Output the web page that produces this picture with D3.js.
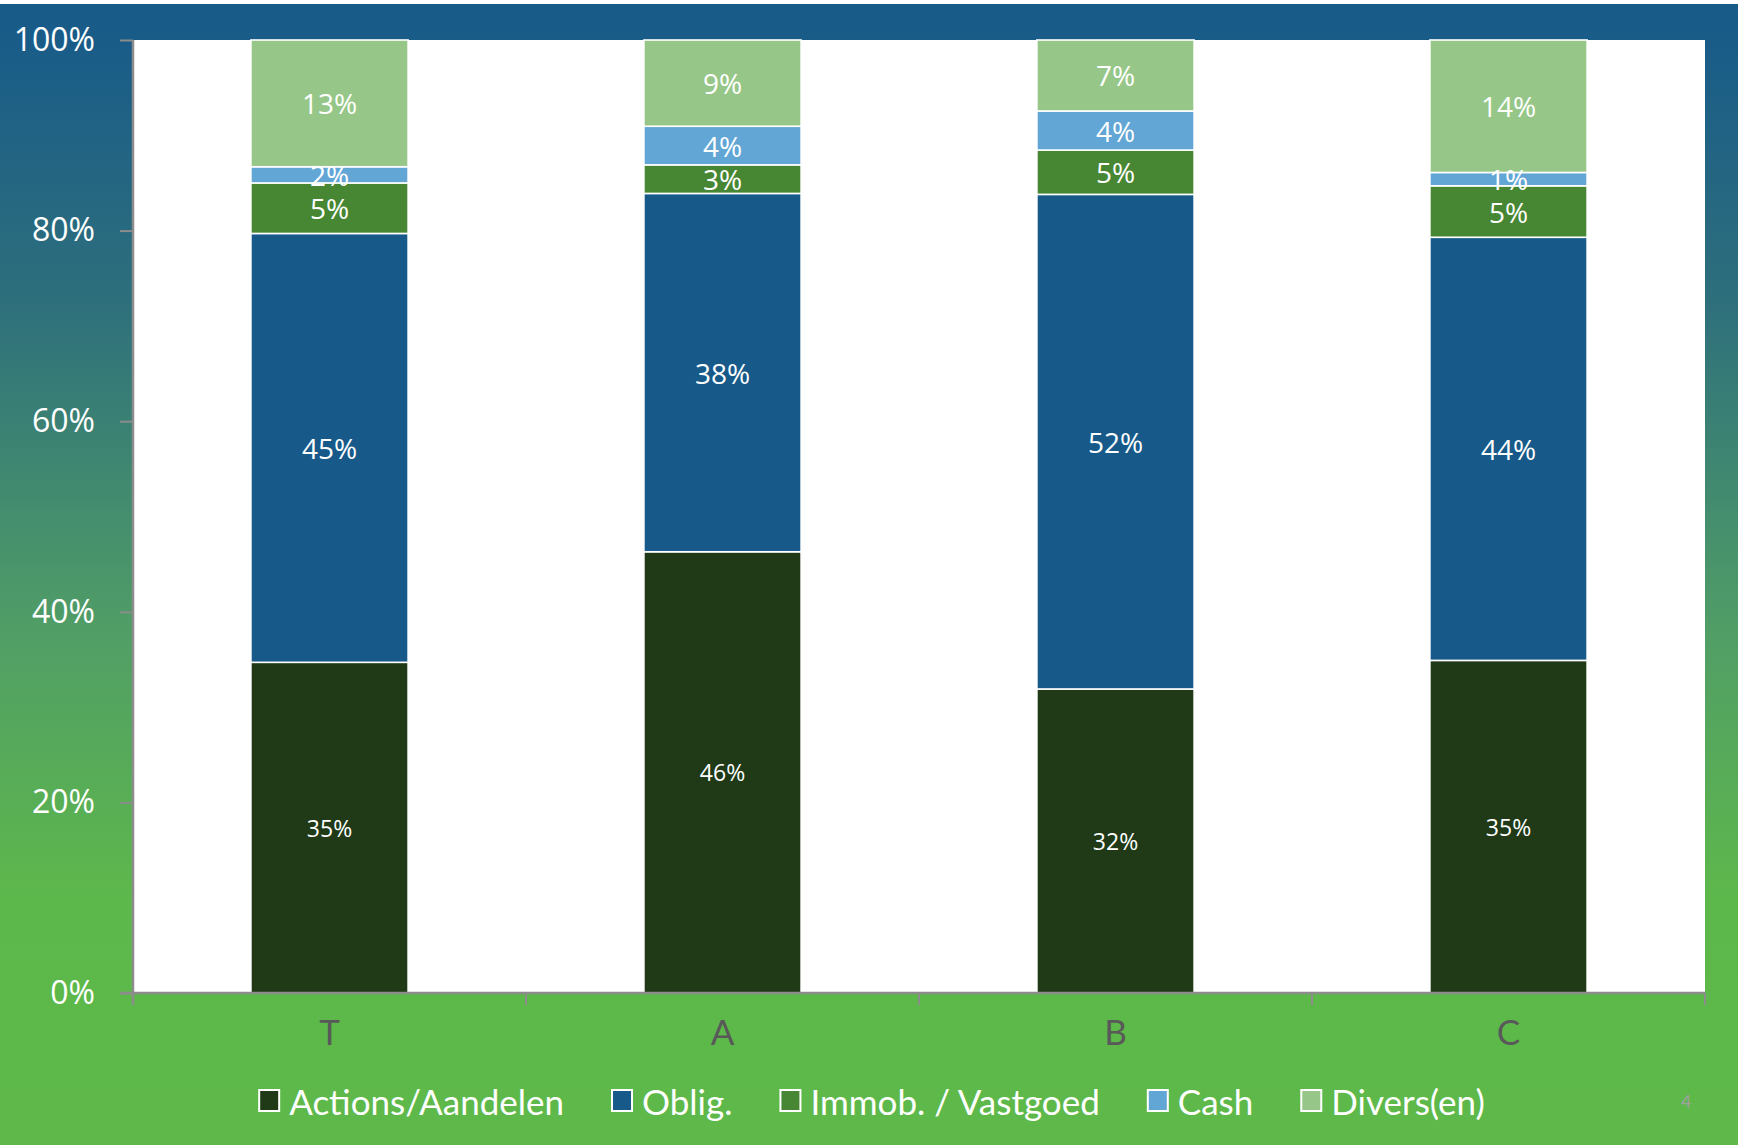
<!DOCTYPE html>
<html>
<head>
<meta charset="utf-8">
<script src="https://cdn.jsdelivr.net/npm/d3@7"></script>
<style>
  html, body { margin: 0; padding: 0; background: #ffffff; }
  svg { display: block; }
</style>
</head>
<body>
<svg id="chart" width="1738" height="1145"></svg>
<script>
// ---- data ----
const categories = ["T", "A", "B", "C"];
const seriesNames = ["Actions/Aandelen", "Oblig.", "Immob. / Vastgoed", "Cash", "Divers(en)"];
const actions = [34.7, 46.3, 31.9, 34.9];
const oblig   = [45.0, 37.6, 51.9, 44.4];
const immob   = [5.3, 3.0, 4.65, 5.4];
const cash    = [1.7, 4.05, 4.1, 1.4];
const divers  = [13.3, 9.05, 7.45, 13.9];
const yTicks  = [0, 20, 40, 60, 80, 100];
const pageNumber = "4";

const seriesValues = [actions, oblig, immob, cash, divers];
const colors = ["#203a17", "#175a89", "#478733", "#62a6d6", "#96c788"];

const W = 1738, H = 1145;
const margin = { left: 133, right: 33, top: 40, bottom: 152 };
const svg = d3.select("#chart");

// background gradient
const defs = svg.append("defs");
const grad = defs.append("linearGradient")
  .attr("id", "bg").attr("gradientUnits", "userSpaceOnUse")
  .attr("x1", 0).attr("y1", 0).attr("x2", 0).attr("y2", H);
[[0, "#195b89"], [40, "#195c88"], [300, "#2e6f7c"], [633, "#519e66"], [900, "#5db84b"], [H, "#5eb94a"]]
  .forEach(([y, c]) => grad.append("stop").attr("offset", y / H).attr("stop-color", c));

svg.append("rect").attr("x", 0).attr("y", 4).attr("width", W).attr("height", H - 4).attr("fill", "url(#bg)");

const x0 = margin.left, x1 = W - margin.right;
const y0 = H - margin.bottom, y1 = margin.top;

const x = d3.scaleBand().domain(categories).range([x0, x1]).paddingInner(0.6).paddingOuter(0.3);
const y = d3.scaleLinear().domain([0, 100]).range([y0, y1]);

// plot area
svg.append("rect").attr("x", x0).attr("y", y1).attr("width", x1 - x0).attr("height", y0 - y1).attr("fill", "#ffffff");

// stacked data
const table = categories.map((c, i) => {
  const o = { cat: c };
  seriesNames.forEach((s, j) => o[s] = seriesValues[j][i]);
  return o;
});
const stacked = d3.stack().keys(seriesNames)(table);

const g = svg.append("g");
stacked.forEach((layer, j) => {
  g.selectAll(null).data(layer).join("rect")
    .attr("x", d => x(d.data.cat))
    .attr("y", d => y(d[1]))
    .attr("width", x.bandwidth())
    .attr("height", d => y(d[0]) - y(d[1]))
    .attr("fill", colors[j])
    .attr("stroke", "#ffffff")
    .attr("stroke-width", 1.6);
});

// labels
stacked.forEach((layer, j) => {
  g.selectAll(null).data(layer).join("text")
    .attr("x", d => x(d.data.cat) + x.bandwidth() / 2)
    .attr("y", d => (y(d[0]) + y(d[1])) / 2)
    .attr("text-anchor", "middle")
    .attr("dominant-baseline", "central")
    .attr("fill", "#ffffff")
    .attr("font-family", "'Open Sans', sans-serif")
    .attr("font-size", j === 0 ? 23 : 28)
    .text(d => Math.round(d[1] - d[0]) + "%");
});

// axes
const axisColor = "#8c8c8c";
const yAxis = svg.append("g").attr("transform", `translate(${x0},0)`)
  .call(d3.axisLeft(y).tickValues(yTicks).tickSize(13).tickPadding(25).tickFormat(d => d + "%"));
yAxis.select(".domain").attr("stroke", axisColor).attr("stroke-width", 2.5).attr("d", `M0,${y1}V${y0 + 12}`);
yAxis.selectAll(".tick line").attr("stroke", axisColor).attr("stroke-width", 2);
yAxis.selectAll(".tick text").attr("fill", "#ffffff")
  .attr("font-family", "'Open Sans', sans-serif").attr("font-size", 32);

const xAxis = svg.append("g").attr("transform", `translate(0,${y0})`)
  .call(d3.axisBottom(x).tickSize(0).tickPadding(27));
xAxis.select(".domain").attr("stroke", axisColor).attr("stroke-width", 2.5).attr("d", `M${x0 - 13},0H${x1}`);
xAxis.selectAll(".tick text").attr("fill", "#595959")
  .attr("font-family", "Lato, sans-serif").attr("font-size", 35);
// category separators
const sepPos = [x0].concat(categories.slice(1).map(c => x(c) - (x.step() - x.bandwidth()) / 2), [x1]);
xAxis.selectAll(".sep").data(sepPos).join("line")
  .attr("x1", d => d).attr("x2", d => d).attr("y1", 0).attr("y2", 12)
  .attr("stroke", axisColor).attr("stroke-width", 2);

// legend
const legend = svg.append("g");
const items = [];
seriesNames.forEach((s, j) => {
  const it = legend.append("g");
  it.append("rect").attr("x", 0).attr("y", -11).attr("width", 20).attr("height", 21)
    .attr("fill", colors[j]).attr("stroke", "#ffffff").attr("stroke-width", 2);
  const t = it.append("text").attr("x", 30).attr("y", 0).attr("dominant-baseline", "central")
    .attr("fill", "#ffffff").attr("font-family", "Lato, sans-serif").attr("font-size", 35).text(s);
  items.push({ it, w: 30 + t.node().getComputedTextLength() });
});
const gap = 48;
const total = d3.sum(items, d => d.w) + gap * (items.length - 1);
let lx = 872 - total / 2;
items.forEach(d => { d.it.attr("transform", `translate(${lx},1101)`); lx += d.w + gap; });

svg.append("text").attr("x", 1681).attr("y", 1101).attr("dominant-baseline", "central")
  .attr("fill", "#a0a0a0").attr("font-family", "Lato, sans-serif").attr("font-size", 18).text(pageNumber);
</script>
</body>
</html>
